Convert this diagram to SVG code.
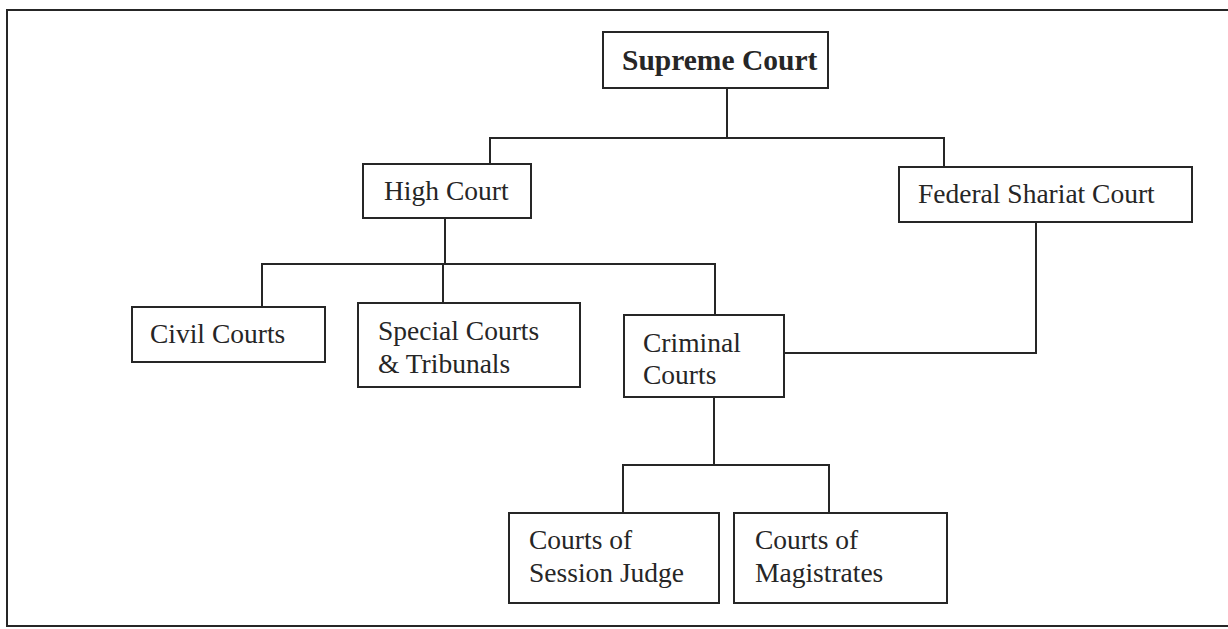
<svg xmlns="http://www.w3.org/2000/svg" width="1228" height="629" viewBox="0 0 1228 629">
<style>
.box{fill:#fff;stroke:#262626;stroke-width:2}
.ln{fill:none;stroke:#262626;stroke-width:2}
.t{font-family:"Liberation Serif","Times New Roman",serif;font-size:27.5px;fill:#262626}
.b{font-weight:bold;font-size:29.5px}
</style>
<rect x="0" y="0" width="1228" height="629" fill="#fff"/>
<path class="ln" d="M1228,10 H7 V626 H1228"/>
<g id="connectors">
<path class="ln" d="M727,88 V138"/>
<path class="ln" d="M490,165 V138 H944 V167"/>
<path class="ln" d="M445,218 V264"/>
<path class="ln" d="M262,307 V264 H715 V315"/>
<path class="ln" d="M443,264 V303"/>
<path class="ln" d="M1036,222 V353 H784"/>
<path class="ln" d="M714,397 V465"/>
<path class="ln" d="M623,513 V465 H829 V513"/>
</g>
<g id="supreme-court">
<rect class="box" x="603" y="32" width="225" height="56"/>
<text class="t b" x="622" y="70">Supreme Court</text>
</g>
<g id="high-court">
<rect class="box" x="363" y="164" width="168" height="54"/>
<text class="t" x="384" y="200">High Court</text>
</g>
<g id="federal-shariat-court">
<rect class="box" x="899" y="167" width="293" height="55"/>
<text class="t" x="918" y="203">Federal Shariat Court</text>
</g>
<g id="civil-courts">
<rect class="box" x="132" y="307" width="193" height="55"/>
<text class="t" x="150" y="343">Civil Courts</text>
</g>
<g id="special-courts">
<rect class="box" x="358" y="303" width="222" height="84"/>
<text class="t" x="378" y="340">Special Courts</text>
<text class="t" x="378" y="373">&amp; Tribunals</text>
</g>
<g id="criminal-courts">
<rect class="box" x="624" y="315" width="160" height="82"/>
<text class="t" x="643" y="352">Criminal</text>
<text class="t" x="643" y="384">Courts</text>
</g>
<g id="session-judge">
<rect class="box" x="509" y="513" width="210" height="90"/>
<text class="t" x="529" y="549">Courts of</text>
<text class="t" x="529" y="582">Session Judge</text>
</g>
<g id="magistrates">
<rect class="box" x="734" y="513" width="213" height="90"/>
<text class="t" x="755" y="549">Courts of</text>
<text class="t" x="755" y="582">Magistrates</text>
</g>
</svg>
